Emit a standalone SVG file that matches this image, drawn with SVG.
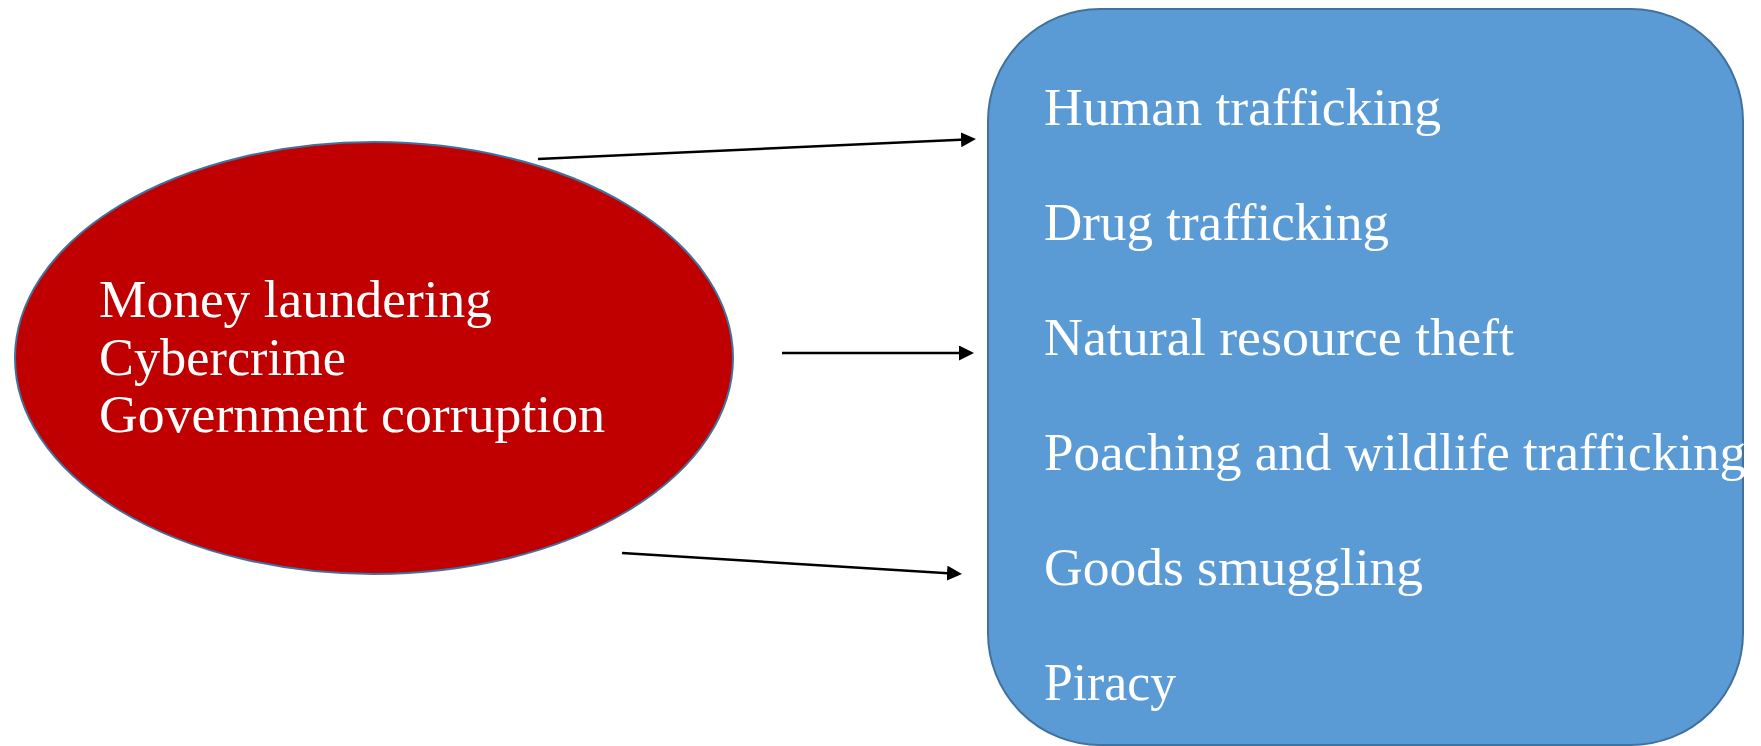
<svg xmlns="http://www.w3.org/2000/svg" width="1761" height="746" viewBox="0 0 1761 746">
  <style>
    .lbl { font-family: "Liberation Serif", "Times New Roman", serif; font-size: 52px; fill: #ffffff; }
    .conn { stroke: #000000; stroke-width: 2.5; fill: none; }
  </style>
  <defs>
    <marker id="arrow" viewBox="0 0 15 15" markerUnits="userSpaceOnUse" markerWidth="15" markerHeight="15" refX="5" refY="7.5" orient="auto">
      <path d="M0,0 L15,7.5 L0,15 z" fill="#000000"/>
    </marker>
  </defs>
  <rect width="1761" height="746" fill="#ffffff"/>

  <g id="node-causes">
    <ellipse cx="374" cy="358" rx="359" ry="216" fill="#C00000" stroke="#41719C" stroke-width="2"/>
    <text class="lbl" x="99" y="317" textLength="393" lengthAdjust="spacingAndGlyphs">Money laundering</text>
    <text class="lbl" x="99" y="375" textLength="247" lengthAdjust="spacingAndGlyphs">Cybercrime</text>
    <text class="lbl" x="99" y="432" textLength="506" lengthAdjust="spacingAndGlyphs">Government corruption</text>
  </g>

  <g id="node-crimes">
    <rect x="988" y="9" width="755" height="736" rx="112" ry="112" fill="#5B9BD5" stroke="#41719C" stroke-width="2"/>
    <text class="lbl" x="1044" y="125" textLength="397" lengthAdjust="spacingAndGlyphs">Human trafficking</text>
    <text class="lbl" x="1044" y="240" textLength="345" lengthAdjust="spacingAndGlyphs">Drug trafficking</text>
    <text class="lbl" x="1044" y="355" textLength="470" lengthAdjust="spacingAndGlyphs">Natural resource theft</text>
    <text class="lbl" x="1044" y="470" textLength="702" lengthAdjust="spacingAndGlyphs">Poaching and wildlife trafficking</text>
    <text class="lbl" x="1044" y="585" textLength="379" lengthAdjust="spacingAndGlyphs">Goods smuggling</text>
    <text class="lbl" x="1044" y="700" textLength="132" lengthAdjust="spacingAndGlyphs">Piracy</text>
  </g>

  <g id="connectors">
    <line class="conn" x1="538" y1="159" x2="966" y2="139.5" marker-end="url(#arrow)"/>
    <line class="conn" x1="782" y1="353" x2="964" y2="353" marker-end="url(#arrow)"/>
    <line class="conn" x1="622" y1="553" x2="952" y2="573.4" marker-end="url(#arrow)"/>
  </g>
</svg>
